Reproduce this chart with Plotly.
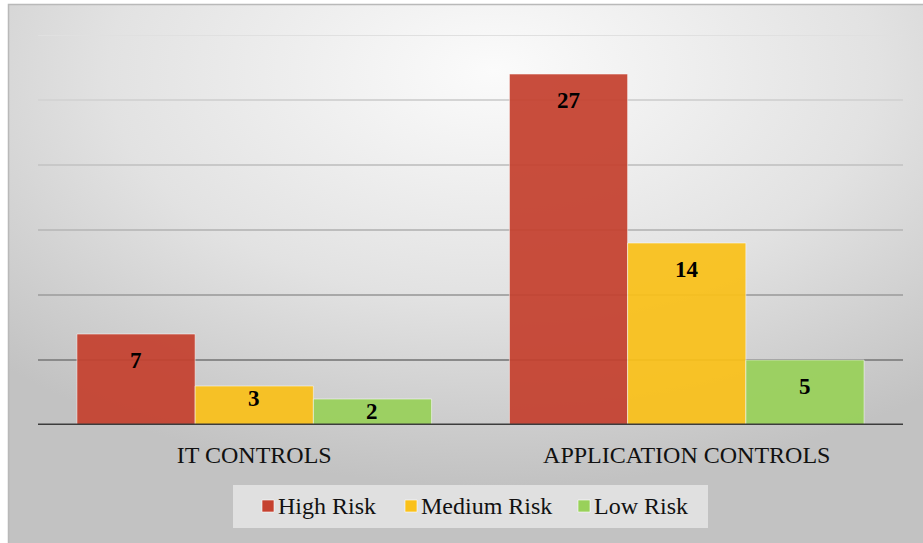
import base64
import plotly.graph_objects as go

# Data
categories = ["IT CONTROLS", "APPLICATION CONTROLS"]
series_names = ["High Risk", "Medium Risk", "Low Risk"]
high_risk = [7, 27]
medium_risk = [3, 14]
low_risk = [2, 5]
series_values = [high_risk, medium_risk, low_risk]

# Styling
colors = ["#C5412F", "#FAC11A", "#99D15A"]
font_family = "Liberation Serif"
W, H = 923, 543
ML, MR, MT, MB = 38, 20, 35, 118
PW, PH = W - ML - MR, H - MT - MB
Y_MAX = 30
GRID_STEP = 5
BARGAP = 0.18
grid_colors = {5: "#8a8a8a", 10: "#a8a8a8", 15: "#bdbdbd",
               20: "#c8c8c8", 25: "#d4d4d4", 30: "#e0e0e0"}

fig = go.Figure()
for name, vals, col in zip(series_names, series_values, colors):
    fig.add_trace(go.Bar(
        x=categories, y=vals, name=name, showlegend=False,
        marker=dict(color=col, opacity=0.93,
                    line=dict(color="rgba(255,255,255,0.55)", width=1)),
    ))

# Value labels near the top of each bar
px_per_unit = PH / Y_MAX
bar_px_width = PW / len(categories) * (1 - BARGAP) / len(series_names)
annotations = []
for i, vals in enumerate(series_values):
    for j, v in enumerate(vals):
        shift = -26 if v * px_per_unit >= 60 else -12.5
        annotations.append(dict(
            x=categories[j], y=v, xref="x", yref="y",
            text=f"<b>{v}</b>", showarrow=False,
            xshift=(i - 1) * bar_px_width, yshift=shift,
            font=dict(family=font_family, size=23, color="#000000"),
        ))

# Horizontal gridlines and baseline
shapes = []
for g in range(GRID_STEP, Y_MAX + 1, GRID_STEP):
    shapes.append(dict(type="line", xref="paper", yref="y", x0=0, x1=1,
                       y0=g, y1=g, layer="below",
                       line=dict(color=grid_colors[g], width=2)))
shapes.append(dict(type="line", xref="paper", yref="y", x0=0, x1=1,
                   y0=0, y1=0, layer="above",
                   line=dict(color="#3c3c3c", width=3)))

# Legend drawn as a boxed row of swatches and names below the axis
def px_to_paper_x(px):
    return (px - ML) / PW

def px_to_paper_y(py):
    return (H - MB - py) / PH

legend_box = (233, 485, 708, 528)
legend_swatch_x = [262, 405, 578]
legend_mid_y = 506
shapes.append(dict(type="rect", xref="paper", yref="paper",
                   x0=px_to_paper_x(legend_box[0]), x1=px_to_paper_x(legend_box[2]),
                   y0=px_to_paper_y(legend_box[1]), y1=px_to_paper_y(legend_box[3]),
                   fillcolor="rgba(236,236,236,0.7)", line=dict(width=0),
                   layer="below"))
for name, col, sx in zip(series_names, colors, legend_swatch_x):
    shapes.append(dict(type="rect", xref="paper", yref="paper",
                       x0=px_to_paper_x(sx), x1=px_to_paper_x(sx + 12),
                       y0=px_to_paper_y(legend_mid_y + 6), y1=px_to_paper_y(legend_mid_y - 6),
                       fillcolor=col, line=dict(color="rgba(255,255,255,0.6)", width=1)))
    annotations.append(dict(
        x=px_to_paper_x(sx + 14), y=px_to_paper_y(legend_mid_y),
        xref="paper", yref="paper", xanchor="left", yanchor="middle",
        text=name, showarrow=False,
        font=dict(family=font_family, size=24, color="#111111"),
    ))

# Chart-area background: radial grey gradient with a thin frame
svg = f"""<svg xmlns='http://www.w3.org/2000/svg' width='{W}' height='{H}' viewBox='0 0 {W} {H}' preserveAspectRatio='none'>
<defs><radialGradient id='g' cx='0.52' cy='0.12' r='0.75' gradientUnits='objectBoundingBox'>
<stop offset='0' stop-color='#fbfbfb'/><stop offset='0.55' stop-color='#e2e2e2'/><stop offset='1' stop-color='#c2c2c2'/>
</radialGradient></defs>
<rect x='0' y='0' width='{W}' height='{H}' fill='#ffffff'/>
<rect x='8.5' y='4.5' width='{W + 10}' height='{H + 10}' fill='url(#g)' stroke='#b9b9b9' stroke-width='1.5'/>
</svg>"""
bg_uri = "data:image/svg+xml;base64," + base64.b64encode(svg.encode()).decode()

fig.update_layout(
    width=W, height=H,
    margin=dict(l=ML, r=MR, t=MT, b=MB, pad=0),
    paper_bgcolor="rgba(0,0,0,0)", plot_bgcolor="rgba(0,0,0,0)",
    barmode="group", bargap=BARGAP, bargroupgap=0,
    font=dict(family=font_family, size=20, color="#000000"),
    xaxis=dict(showgrid=False, showline=False, zeroline=False, ticks="",
               ticklabelstandoff=13,
               tickfont=dict(family=font_family, size=24, color="#111111")),
    yaxis=dict(range=[0, Y_MAX], showgrid=False, showticklabels=False,
               zeroline=False, showline=False, fixedrange=True),
    shapes=shapes,
    annotations=annotations,
    images=[dict(source=bg_uri, xref="paper", yref="paper",
                 x=-ML / PW, y=1 + MT / PH, sizex=W / PW, sizey=H / PH,
                 xanchor="left", yanchor="top", sizing="stretch",
                 layer="below")],
    showlegend=False,
)

fig.write_html("out.html")
